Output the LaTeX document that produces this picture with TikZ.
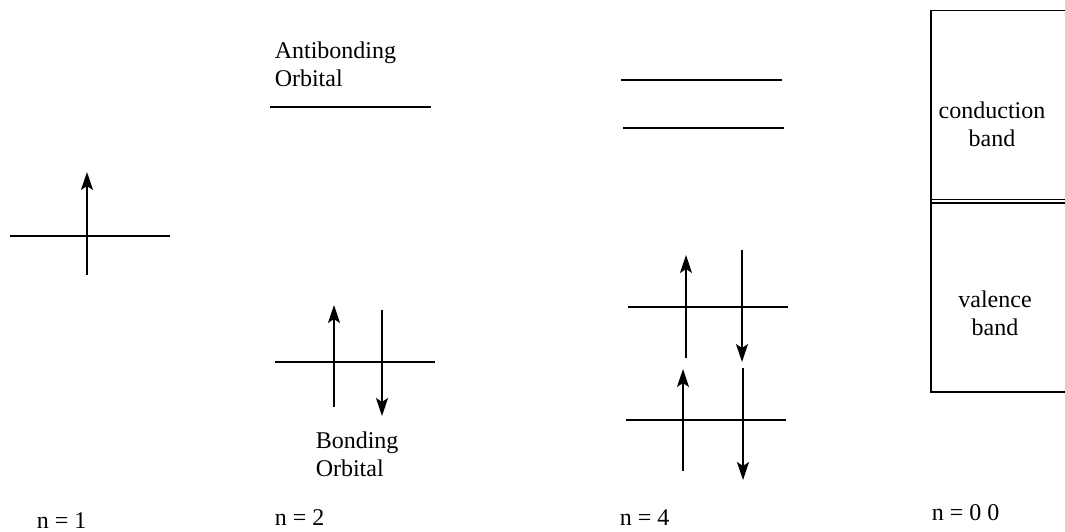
\documentclass[tikz,border=0pt]{standalone}
\usepackage{fontspec}
\setmainfont{Liberation Serif}
\usetikzlibrary{arrows.meta}

\begin{document}
\begin{tikzpicture}[
    x=0.5pt, y=-0.5pt,
    every path/.style={line width=0.75pt},
    level/.style={draw},
    spin/.style={draw, -{Stealth[length=9pt,width=6pt,inset=2pt]}},
    every node/.style={font=\fontsize{12}{14}\selectfont, inner sep=0pt}
]
\useasboundingbox (0,0) rectangle (1065,531);

    \coordinate (l1a) at (10,236);
    \coordinate (l1b) at (170,236);
    \coordinate (s1a) at (87,275);
    \coordinate (s1b) at (87,172);

    \coordinate (abl) at (270,107);
    \coordinate (abr) at (431,107);
    \coordinate (bl) at (275,362);
    \coordinate (br) at (435,362);
    \coordinate (s2a) at (334,407);
    \coordinate (s2b) at (334,305);
    \coordinate (s3a) at (382,310);
    \coordinate (s3b) at (382,416);

    \coordinate (q1l) at (621,80);
    \coordinate (q1r) at (782,80);
    \coordinate (q2l) at (623,128);
    \coordinate (q2r) at (784,128);
    \coordinate (q3l) at (628,307);
    \coordinate (q3r) at (788,307);
    \coordinate (q4l) at (626,420);
    \coordinate (q4r) at (786,420);
    \coordinate (u1a) at (686,358);
    \coordinate (u1b) at (686,255);
    \coordinate (d1a) at (742,250);
    \coordinate (d1b) at (742,362);
    \coordinate (u2a) at (683,471);
    \coordinate (u2b) at (683,369);
    \coordinate (d2a) at (743,368);
    \coordinate (d2b) at (743,480);

    \coordinate (bxt) at (1066,10.5);
    \coordinate (bxb) at (931,392);
    \coordinate (bxe) at (1066,392);
    \coordinate (gl) at (931,199.5);
    \coordinate (gr) at (1066,199.5);
    \coordinate (hl) at (931,203);
    \coordinate (hr) at (1066,203);

    \draw [level] (l1a) -- (l1b);
    \draw [spin] (s1a) -- (s1b);

    \draw [level] (abl) -- (abr);
    \draw [level] (bl) -- (br);
    \draw [spin] (s2a) -- (s2b);
    \draw [spin] (s3a) -- (s3b);

    \draw [level] (q1l) -- (q1r);
    \draw [level] (q2l) -- (q2r);
    \draw [level] (q3l) -- (q3r);
    \draw [level] (q4l) -- (q4r);
    \draw [spin] (u1a) -- (u1b);
    \draw [spin] (d1a) -- (d1b);
    \draw [spin] (u2a) -- (u2b);
    \draw [spin] (d2a) -- (d2b);

    \draw [level] (bxt) -| (bxb) -- (bxe);
    \draw [level] (gl) -- (gr);
    \draw [level] (hl) -- (hr);

    \node [anchor=north west, align=left] (anti) at (274,41) {Antibonding\\Orbital};
    \node [anchor=north west, align=left] (bond) at (315,431.5) {Bonding\\Orbital};
    \node [anchor=north, align=center] (cond) at (992,101.5) {conduction\\band};
    \node [anchor=north, align=center] (val) at (995,290.5) {valence\\band};

    \node [anchor=base west] (n1) at (36,528) {n = 1};
    \node [anchor=base west] (n2) at (274,525) {n = 2};
    \node [anchor=base west] (n4) at (619,525) {n = 4};
    \node [anchor=base west] (n0) at (931,520) {n = 0 0};
  \end{tikzpicture}
\end{document}
